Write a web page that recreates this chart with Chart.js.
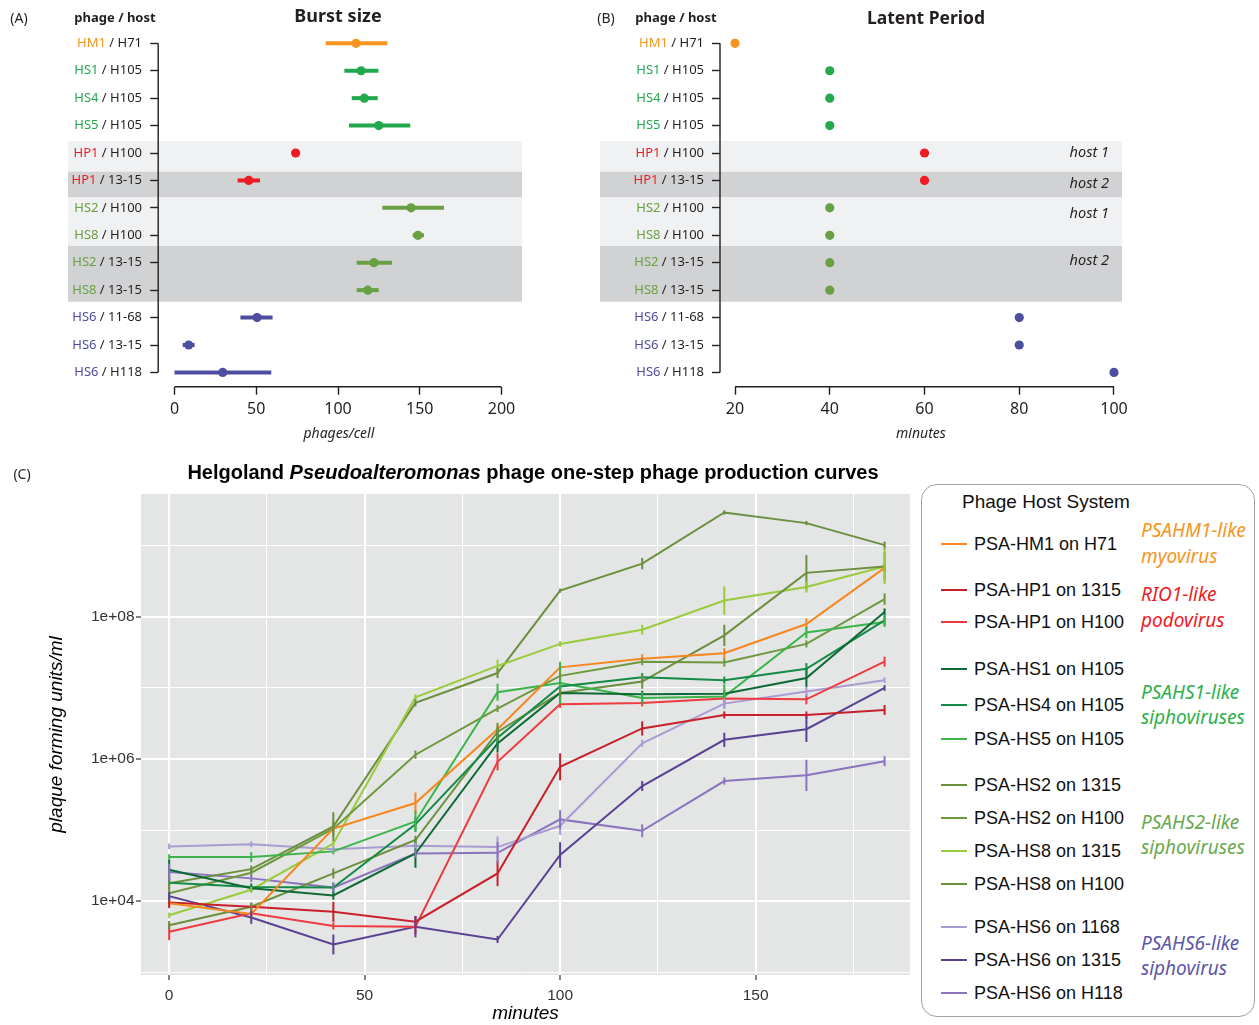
<!DOCTYPE html>
<html>
<head>
<meta charset="utf-8">
<script src="https://cdn.jsdelivr.net/npm/chart.js@4.4.0/dist/chart.umd.min.js"></script>
<style>
  body { margin: 0; background: #fff; }
  #page { position: relative; width: 1259px; height: 1025px; overflow: hidden; font-family: "Noto Sans", sans-serif; color: #231f20; }
  canvas { position: absolute; }
  .c { position: absolute; white-space: nowrap; transform: translate(-50%, -50%); }
  .l { position: absolute; white-space: nowrap; transform: translateY(-50%); }
  .r { position: absolute; white-space: nowrap; transform: translate(-100%, -50%); }
  #legend { position: absolute; left: 921px; top: 484px; width: 332px; height: 531px; border: 1.5px solid #a3a3a3; border-radius: 16px; }
  .arial { font-family: "Liberation Sans", Arial, sans-serif; }
</style>
</head>
<body>
<div id="page">
  <canvas id="burst" width="560" height="450" style="left:0;top:0"></canvas>
  <canvas id="latent" width="699" height="450" style="left:560px;top:0"></canvas>
  <canvas id="curves" width="915" height="545" style="left:0;top:480px"></canvas>

  <div class="c" style="left:19px;top:17px;font-size:14px">(A)</div>
  <div class="c" style="left:115px;top:17px;font-size:13px;font-weight:bold">phage / host</div>
  <div class="c" style="left:338px;top:15px;font-size:18px;font-weight:bold">Burst size</div>
  <div class="c" style="left:606px;top:17px;font-size:14px">(B)</div>
  <div class="c" style="left:676px;top:17px;font-size:13px;font-weight:bold">phage / host</div>
  <div class="c" style="left:926px;top:17px;font-size:17.5px;font-weight:bold">Latent Period</div>

  <div class="r" style="left:1109px;top:151px;font-size:14.5px;font-style:italic">host 1</div>
  <div class="r" style="left:1109px;top:182px;font-size:14.5px;font-style:italic">host 2</div>
  <div class="r" style="left:1109px;top:212px;font-size:14.5px;font-style:italic">host 1</div>
  <div class="r" style="left:1109px;top:259px;font-size:14.5px;font-style:italic">host 2</div>

  <div class="c" style="left:22px;top:473px;font-size:14px">(C)</div>
  <div class="c arial" style="left:533px;top:472px;font-size:20px;font-weight:bold;color:#000">Helgoland <i>Pseudoalteromonas</i> phage one-step phage production curves</div>

  <div id="legend"></div>
</div>

<script>
// ---------- panels A and B: one row per phage / host pair ----------
const rowPhage = ["HM1", "HS1", "HS4", "HS5", "HP1", "HP1", "HS2", "HS8", "HS2", "HS8", "HS6", "HS6", "HS6"];
const rowHost = ["H71", "H105", "H105", "H105", "H100", "13-15", "H100", "H100", "13-15", "13-15", "11-68", "13-15", "H118"];

// burst size (phages/cell): mean and range
const burstMean = [111.0, 114.1, 116.1, 124.9, 74.1, 45.4, 144.7, 148.9, 122.0, 118.2, 50.5, 8.7, 29.5];
const burstLow = [92.5, 103.9, 108.4, 106.7, 74.1, 38.6, 127.1, 145.7, 111.4, 111.4, 40.3, 5.0, 0];
const burstHigh = [130.2, 124.7, 124.3, 144.2, 74.1, 52.3, 164.8, 152.6, 133.0, 124.9, 60.0, 12.3, 59.2];
const burstTicks = [0, 50, 100, 150, 200];

// latent period (minutes)
const latentMinutes = [20, 40, 40, 40, 60, 60, 40, 40, 40, 40, 80, 80, 100];
const latentTicks = [20, 40, 60, 80, 100];

// ---------- panel C: one-step curves, log10(pfu/ml) ----------
const minutes = [0, 21, 42, 63, 84, 100, 121, 142, 163, 183];
const minuteTicks = [0, 25, 50, 75, 100, 125, 150, 175];
const pfuTicks = [3, 4, 5, 6, 7, 8, 9];

const hm1OnH71 = [3.97, 3.82, 5.02, 5.38, 6.42, 7.29, 7.41, 7.49, 7.90, 8.69];
const hp1On1315 = [3.98, 3.92, 3.85, 3.71, 4.39, 5.89, 6.43, 6.62, 6.62, 6.69];
const hp1OnH100 = [3.57, 3.83, 3.65, 3.64, 5.96, 6.77, 6.79, 6.85, 6.84, 7.37];
const hs1OnH105 = [4.44, 4.18, 4.08, 4.67, 6.22, 6.93, 6.91, 6.92, 7.14, 8.07];
const hs4OnH105 = [4.26, 4.20, 4.19, 5.08, 6.30, 7.02, 7.15, 7.11, 7.27, 7.95];
const hs5OnH105 = [4.62, 4.62, 4.70, 5.12, 6.94, 7.07, 6.86, 6.88, 7.78, 7.93];
const hs2On1315 = [3.66, 3.92, 4.39, 4.86, 6.38, 6.93, 7.09, 7.74, 8.62, 8.71];
const hs2OnH100 = [4.11, 4.40, 5.02, 6.06, 6.71, 7.17, 7.37, 7.36, 7.62, 8.25];
const hs8On1315 = [3.80, 4.16, 4.81, 6.87, 7.31, 7.62, 7.82, 8.23, 8.42, 8.71];
const hs8OnH100 = [4.25, 4.45, 5.05, 6.79, 7.21, 8.37, 8.75, 9.47, 9.32, 9.01];
const hs6On1168 = [4.77, 4.80, 4.73, 4.78, 4.76, 5.06, 6.22, 6.78, 6.95, 7.11];
const hs6On1315 = [4.07, 3.77, 3.39, 3.64, 3.46, 4.65, 5.62, 6.27, 6.42, 7.00];
const hs6OnH118 = [4.41, 4.32, 4.19, 4.67, 4.68, 5.15, 4.99, 5.69, 5.77, 5.97];

// error bar half heights, log10 units
const hm1OnH71Err = [0.04, 0.05, 0.04, 0.15, 0.05, 0.05, 0.065, 0.07, 0.08, 0.06];
const hp1On1315Err = [0.08, 0.05, 0.14, 0.08, 0.18, 0.19, 0.10, 0.05, 0.05, 0.07];
const hp1OnH100Err = [0.12, 0.04, 0.05, 0.10, 0.12, 0.05, 0.05, 0.04, 0.07, 0.07];
const hs1OnH105Err = [0.14, 0.05, 0.06, 0.20, 0.13, 0.10, 0.05, 0.05, 0.13, 0.05];
const hs4OnH105Err = [0.05, 0.05, 0.07, 0.10, 0.13, 0.10, 0.06, 0.05, 0.08, 0.07];
const hs5OnH105Err = [0.04, 0.07, 0.04, 0.15, 0.12, 0.30, 0.08, 0.17, 0.08, 0.07];
const hs2On1315Err = [0.06, 0.06, 0.07, 0.06, 0.13, 0.05, 0.10, 0.15, 0.25, 0.20];
const hs2OnH100Err = [0.09, 0.05, 0.10, 0.06, 0.05, 0.05, 0.05, 0.06, 0.05, 0.08];
const hs8On1315Err = [0.04, 0.04, 0.05, 0.04, 0.09, 0.04, 0.07, 0.20, 0.08, 0.25];
const hs8OnH100Err = [0.09, 0.05, 0.20, 0.05, 0.07, 0.03, 0.08, 0.03, 0.03, 0.05];
const hs6On1168Err = [0.04, 0.04, 0.04, 0.04, 0.15, 0.13, 0.05, 0.07, 0.07, 0.04];
const hs6On1315Err = [0.06, 0.09, 0.14, 0.15, 0.05, 0.18, 0.07, 0.10, 0.18, 0.04];
const hs6OnH118Err = [0.12, 0.05, 0.07, 0.06, 0.15, 0.13, 0.09, 0.05, 0.22, 0.07];

// ---------- styles ----------
const phageColor = { HM1: "#f7941d", HS1: "#22a84d", HS4: "#22a84d", HS5: "#22a84d", HP1: "#ed1c24", HS2: "#69a044", HS8: "#69a044", HS6: "#4e4ea0" };
const ink = "#231f20";
const bands = [[3.56, 4.68, "#f0f1f2"], [4.68, 5.62, "#d1d2d4"], [5.62, 7.39, "#f0f1f2"], [7.39, 9.42, "#d1d2d4"]];

const series = [
  { label: "PSA-HM1 on H71", y: hm1OnH71, err: hm1OnH71Err, color: "#f7861f" },
  { label: "PSA-HP1 on 1315", y: hp1On1315, err: hp1On1315Err, color: "#c8202a" },
  { label: "PSA-HP1 on H100", y: hp1OnH100, err: hp1OnH100Err, color: "#ee3a40" },
  { label: "PSA-HS1 on H105", y: hs1OnH105, err: hs1OnH105Err, color: "#0e6a34" },
  { label: "PSA-HS4 on H105", y: hs4OnH105, err: hs4OnH105Err, color: "#138a45" },
  { label: "PSA-HS5 on H105", y: hs5OnH105, err: hs5OnH105Err, color: "#3cb44a" },
  { label: "PSA-HS2 on 1315", y: hs2On1315, err: hs2On1315Err, color: "#6b8f3c" },
  { label: "PSA-HS2 on H100", y: hs2OnH100, err: hs2OnH100Err, color: "#6e983e" },
  { label: "PSA-HS8 on 1315", y: hs8On1315, err: hs8On1315Err, color: "#9acb3c" },
  { label: "PSA-HS8 on H100", y: hs8OnH100, err: hs8OnH100Err, color: "#6a8f3e" },
  { label: "PSA-HS6 on 1168", y: hs6On1168, err: hs6On1168Err, color: "#a99cd2" },
  { label: "PSA-HS6 on 1315", y: hs6On1315, err: hs6On1315Err, color: "#5b4193" },
  { label: "PSA-HS6 on H118", y: hs6OnH118, err: hs6OnH118Err, color: "#8b73bd" }
];

// ---------- plugins for A / B ----------
const bandsPlugin = {
  id: "bands",
  beforeDraw(chart, args, o) {
    const { ctx, scales: { y } } = chart;
    bands.forEach(([a, b, c]) => {
      const y1 = y.getPixelForValue(a), y2 = y.getPixelForValue(b);
      ctx.fillStyle = c;
      ctx.fillRect(o.left, y1, o.right - o.left, y2 - y1);
    });
  }
};

const rangePlugin = {
  id: "ranges",
  beforeDatasetsDraw(chart, args, o) {
    if (!o.low) return;
    const { ctx, scales: { x, y } } = chart;
    ctx.save();
    ctx.lineWidth = 4;
    o.low.forEach((lo, i) => {
      if (o.high[i] <= lo) return;
      ctx.strokeStyle = phageColor[rowPhage[i]];
      const py = y.getPixelForValue(i);
      ctx.beginPath();
      ctx.moveTo(x.getPixelForValue(lo), py);
      ctx.lineTo(x.getPixelForValue(o.high[i]), py);
      ctx.stroke();
    });
    ctx.restore();
  }
};

const rowAxesPlugin = {
  id: "rowAxes",
  afterDraw(chart, args, o) {
    const { ctx, chartArea, scales: { x, y } } = chart;
    ctx.save();
    ctx.strokeStyle = ink;
    ctx.lineWidth = 1.4;
    ctx.beginPath();
    ctx.moveTo(chartArea.left, y.getPixelForValue(0));
    ctx.lineTo(chartArea.left, y.getPixelForValue(rowPhage.length - 1));
    ctx.moveTo(x.getPixelForValue(o.ticks[0]), chartArea.bottom);
    ctx.lineTo(x.getPixelForValue(o.ticks[o.ticks.length - 1]), chartArea.bottom);
    ctx.stroke();
    ctx.font = '13px "Noto Sans"';
    ctx.textBaseline = "middle";
    ctx.textAlign = "right";
    rowPhage.forEach((p, i) => {
      const py = y.getPixelForValue(i);
      const rest = " / " + rowHost[i];
      ctx.fillStyle = ink;
      ctx.fillText(rest, o.labelRight, py);
      ctx.fillStyle = phageColor[p];
      ctx.fillText(p, o.labelRight - ctx.measureText(rest).width, py);
    });
    ctx.restore();
  }
};

function rowChart(id, cfg) {
  return new Chart(document.getElementById(id), {
    type: "scatter",
    data: {
      datasets: [{
        data: cfg.values.map((v, i) => ({ x: v, y: i })),
        pointRadius: 4.6,
        pointHoverRadius: 4.6,
        pointBorderWidth: 0,
        pointBackgroundColor: rowPhage.map(p => phageColor[p]),
        clip: false
      }]
    },
    options: {
      responsive: false,
      animation: false,
      events: [],
      layout: { padding: { left: cfg.padLeft, right: cfg.padRight, top: 43.3, bottom: 0 } },
      plugins: {
        legend: { display: false },
        tooltip: { enabled: false },
        bands: { left: cfg.bandLeft, right: cfg.bandRight },
        ranges: { low: cfg.low, high: cfg.high },
        rowAxes: { ticks: cfg.ticks, labelRight: cfg.labelRight }
      },
      scales: {
        x: {
          type: "linear",
          min: cfg.min,
          max: cfg.max,
          border: { display: false },
          grid: { drawOnChartArea: false, tickLength: 8, tickColor: ink, tickWidth: 1.4 },
          afterBuildTicks: s => { s.ticks = cfg.ticks.map(v => ({ value: v })); },
          afterFit: s => { s.height = 63.3; },
          ticks: { color: ink, padding: 5.5, font: { family: "Noto Sans", size: 16 } },
          title: { display: true, text: cfg.title, color: ink, padding: { top: 0, bottom: 8 }, font: { family: "Noto Sans", size: 14, style: "italic" } }
        },
        y: {
          type: "linear",
          reverse: true,
          min: 0,
          max: 12.52,
          border: { display: false },
          grid: { drawOnChartArea: false, tickLength: 8, tickColor: ink, tickWidth: 1.4 },
          afterBuildTicks: s => { s.ticks = rowPhage.map((p, i) => ({ value: i })); },
          afterFit: s => { s.width = 8; },
          ticks: { display: false }
        }
      }
    },
    plugins: [bandsPlugin, rangePlugin, rowAxesPlugin]
  });
}

rowChart("burst", {
  values: burstMean, low: burstLow, high: burstHigh, ticks: burstTicks,
  min: -9.97, max: 211, title: "phages/cell",
  padLeft: 150.2, padRight: 40.5, bandLeft: 68, bandRight: 522, labelRight: 142
});

rowChart("latent", {
  values: latentMinutes, ticks: latentTicks,
  min: 16.83, max: 101.69, title: "minutes",
  padLeft: 152, padRight: 137, bandLeft: 40, bandRight: 562, labelRight: 144
});

// ---------- panel C ----------
const panelPlugin = {
  id: "panel",
  beforeDraw(chart) {
    const { ctx, chartArea: a } = chart;
    ctx.fillStyle = "#e4e5e5";
    ctx.fillRect(a.left, a.top, a.right - a.left, a.bottom - a.top);
  }
};

const errPlugin = {
  id: "errs",
  afterDatasetsDraw(chart) {
    const { ctx, scales: { x, y } } = chart;
    ctx.save();
    ctx.lineWidth = 2;
    chart.data.datasets.forEach(ds => {
      ctx.strokeStyle = ds.borderColor;
      ds.data.forEach((pt, i) => {
        const px = x.getPixelForValue(pt.x);
        ctx.beginPath();
        ctx.moveTo(px, y.getPixelForValue(pt.y - ds.err[i]));
        ctx.lineTo(px, y.getPixelForValue(pt.y + ds.err[i]));
        ctx.stroke();
      });
    });
    ctx.restore();
  }
};

new Chart(document.getElementById("curves"), {
  type: "line",
  data: {
    datasets: series.map(s => ({
      label: s.label,
      data: minutes.map((m, i) => ({ x: m, y: s.y[i] })),
      err: s.err,
      borderColor: s.color,
      borderWidth: 2,
      pointRadius: 0,
      fill: false,
      tension: 0
    }))
  },
  options: {
    responsive: false,
    animation: false,
    events: [],
    layout: { padding: { left: 0, right: 5, top: 14, bottom: 0 } },
    plugins: { legend: { display: false }, tooltip: { enabled: false } },
    scales: {
      x: {
        type: "linear",
        min: -7.2,
        max: 189.5,
        border: { display: false },
        afterBuildTicks: s => { s.ticks = minuteTicks.map(v => ({ value: v })); },
        afterFit: s => { s.height = 50; },
        grid: {
          color: "#ffffff",
          lineWidth: c => (c.tick && c.tick.value % 50 === 0 ? 2 : 1),
          tickLength: 5,
          tickWidth: 1.2,
          tickColor: c => (c.tick && c.tick.value % 50 === 0 ? "#333333" : "rgba(0,0,0,0)")
        },
        ticks: {
          color: "#333333",
          padding: 6,
          font: { family: "Liberation Sans", size: 15.5 },
          callback: v => (v % 50 === 0 ? String(v) : "")
        },
        title: { display: true, text: "minutes", color: "#000", padding: { top: 0, bottom: 0.2 }, font: { family: "Liberation Sans", size: 19, style: "italic" } }
      },
      y: {
        type: "linear",
        min: 2.96,
        max: 9.73,
        border: { display: false },
        afterBuildTicks: s => { s.ticks = pfuTicks.map(v => ({ value: v })); },
        afterFit: s => { s.width = 141; },
        grid: {
          color: "#ffffff",
          lineWidth: c => (c.tick && c.tick.value % 2 === 0 ? 2 : 1),
          tickLength: 5,
          tickWidth: 1.2,
          tickColor: c => (c.tick && c.tick.value % 2 === 0 ? "#333333" : "rgba(0,0,0,0)")
        },
        ticks: {
          color: "#333333",
          padding: 1.5,
          font: { family: "Liberation Sans", size: 15.5 },
          callback: v => (v % 2 === 0 ? "1e+" + String(v).padStart(2, "0") : "")
        },
        title: { display: true, text: "plaque forming units/ml", color: "#000", padding: { top: 45.6 }, font: { family: "Liberation Sans", size: 19, style: "italic" } }
      }
    }
  },
  plugins: [panelPlugin, errPlugin]
});

// ---------- legend box for C ----------
const legendRowY = [544, 590, 622, 669, 705, 739, 785, 818, 851, 884, 927, 960, 993];
const groupNotes = [
  { lines: ["PSAHM1-like", "myovirus"], color: "#f7941d", y: [530, 556] },
  { lines: ["RIO1-like", "podovirus"], color: "#ed1c24", y: [594, 620] },
  { lines: ["PSAHS1-like", "siphoviruses"], color: "#2bb04b", y: [692, 717] },
  { lines: ["PSAHS2-like", "siphoviruses"], color: "#69a84f", y: [822, 847] },
  { lines: ["PSAHS6-like", "siphovirus"], color: "#5b56a8", y: [943, 968] }
];
const page = document.getElementById("page");
function addText(cls, left, top, text, style) {
  const d = document.createElement("div");
  d.className = cls;
  d.style.left = left + "px";
  d.style.top = top + "px";
  d.textContent = text;
  Object.assign(d.style, style);
  page.appendChild(d);
}
addText("l arial", 962, 502, "Phage Host System", { fontSize: "19px", color: "#111" });
series.forEach((s, i) => {
  const sw = document.createElement("div");
  Object.assign(sw.style, { position: "absolute", left: "941px", top: (legendRowY[i] - 1.25) + "px", width: "26px", height: "2.5px", background: s.color });
  page.appendChild(sw);
  addText("l arial", 974, legendRowY[i], s.label, { fontSize: "18px", color: "#111" });
});
groupNotes.forEach(g => g.lines.forEach((t, k) => {
  addText("l", 1141, g.y[k], t, { fontSize: "19px", fontStyle: "italic", color: g.color });
}));
</script>
</body>
</html>
